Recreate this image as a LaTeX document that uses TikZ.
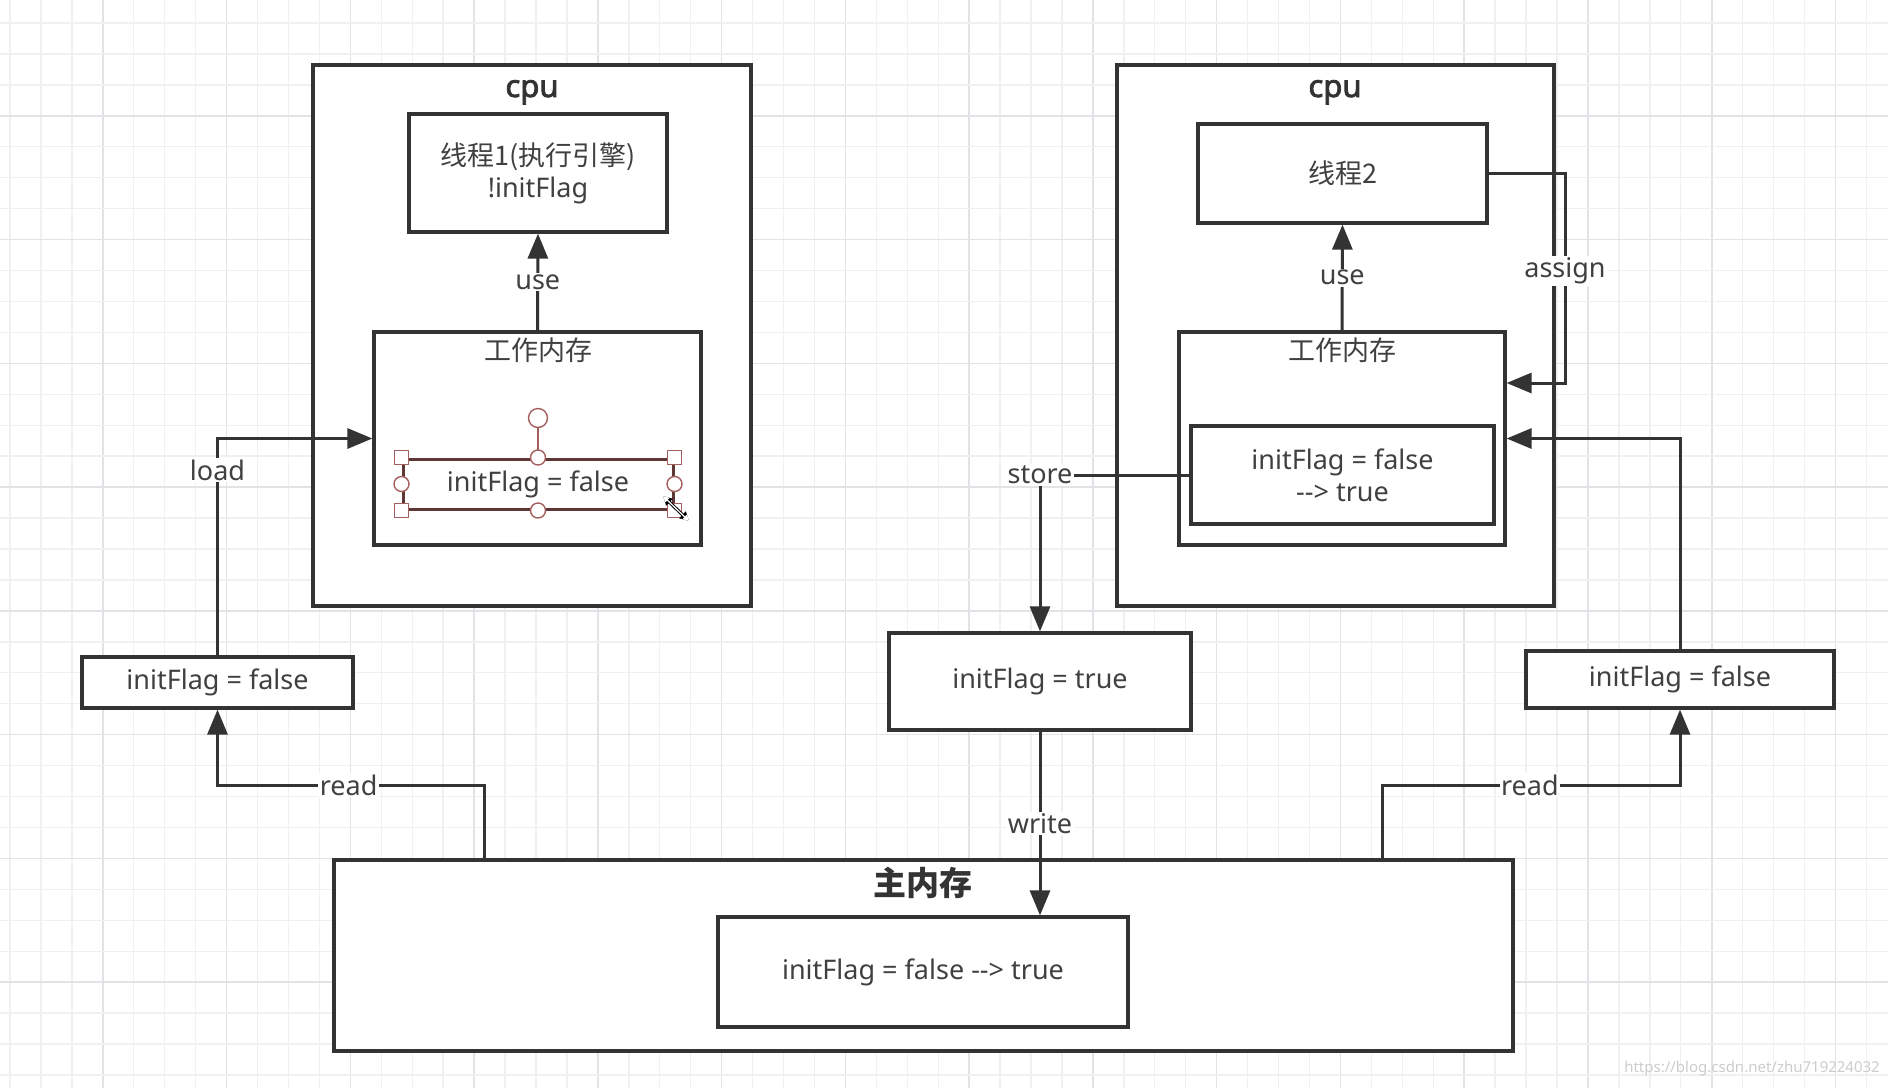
\documentclass[tikz,border=0pt]{standalone}
\usepackage{fontspec}
\setmainfont{Noto Sans}[BoldFont={Noto Sans},BoldFeatures={FakeBold=2.5}]
\newfontfamily\cjk{Noto Sans CJK SC}
\usetikzlibrary{arrows.meta}
\definecolor{lc}{RGB}{51,51,51}
\definecolor{tc}{RGB}{64,64,64}
\definecolor{gmin}{RGB}{240,240,243}
\definecolor{gmaj}{RGB}{226,226,231}
\definecolor{selc}{RGB}{95,55,55}
\definecolor{hdl}{RGB}{165,95,95}
\definecolor{wmk}{RGB}{205,205,205}
\begin{document}
\begin{tikzpicture}[x=1pt,y=-1pt,
  box/.style={draw=lc, line width=3.2pt, fill=white, inner sep=0pt, align=center, text=tc,
    font=\fontsize{27}{32}\selectfont},
  title/.style={inner sep=0pt, text=lc, font=\fontsize{31}{36}\selectfont\bfseries},
  plain/.style={inner sep=0pt, text=tc, font=\fontsize{27}{32}\selectfont},
  lbl/.style={fill=white, inner sep=1.5pt, text=tc, font=\fontsize{27}{32}\selectfont},
  arr/.style={draw=lc, line width=3pt, -{Triangle[length=25pt,width=20pt]}},
  sq/.style={draw=hdl, fill=white, line width=1.4pt, minimum size=14pt, inner sep=0pt, rectangle},
  hc/.style={draw=hdl, fill=white, line width=1.4pt, minimum size=15pt, inner sep=0pt, circle}
]
\useasboundingbox (0,0) rectangle (1888,1088);
\fill[white] (0,0) rectangle (1888,1088);
% grid
\foreach \i in {0,...,60}{
  \pgfmathsetmacro\xx{10+30.94*\i}
  \pgfmathtruncatemacro\m{mod(\i,4)}
  \ifnum\m=3 \draw[gmaj,line width=1.6pt] (\xx,0) -- (\xx,1088);
  \else \draw[gmin,line width=1.4pt] (\xx,0) -- (\xx,1088); \fi
}
\foreach \j in {0,...,34}{
  \pgfmathsetmacro\yy{23+30.94*\j}
  \pgfmathtruncatemacro\m{mod(\j,4)}
  \ifnum\m=3 \draw[gmaj,line width=1.6pt] (0,\yy) -- (1888,\yy);
  \else \draw[gmin,line width=1.4pt] (0,\yy) -- (1888,\yy); \fi
}

% left cpu
\node[box, minimum width=438pt, minimum height=541pt] (cpu1) at (532,335.5) {};
\node[title, anchor=base] (cpu1t) at (532,97) {cpu};
\node[box, minimum width=258pt, minimum height=118pt] (th1) at (538,173) {{\cjk 线程1(执行引擎)}\\!initFlag};
\node[box, minimum width=327pt, minimum height=213pt] (wm1) at (537.5,438.5) {};
\node[plain] (wm1t) at (538,350) {\cjk 工作内存};
\node[box, draw=selc, line width=3pt, minimum width=270pt, minimum height=50pt] (sel) at (538,484) {initFlag = false};

% right cpu
\node[box, minimum width=437pt, minimum height=541pt] (cpu2) at (1335.5,335.5) {};
\node[title, anchor=base] (cpu2t) at (1335,97) {cpu};
\node[box, minimum width=289pt, minimum height=99pt] (th2) at (1342.5,173.5) {\cjk 线程2};
\node[box, minimum width=326pt, minimum height=213pt] (wm2) at (1342,438.5) {};
\node[plain] (wm2t) at (1342,350) {\cjk 工作内存};
\node[box, minimum width=303pt, minimum height=98pt] (ib2) at (1342.5,475) {initFlag = false\\-{}-> true};

% side boxes
\node[box, minimum width=271pt, minimum height=51pt] (lf) at (217.5,682.5) {initFlag = false};
\node[box, minimum width=302pt, minimum height=97pt] (mid) at (1040,681.5) {initFlag = true};
\node[box, minimum width=308pt, minimum height=57pt] (rf) at (1680,679.5) {initFlag = false};

% main memory
\node[box, minimum width=1179pt, minimum height=191pt] (mm) at (923.5,955.5) {};
\node[title, font=\fontsize{33}{38}\selectfont] (mmt) at (923,883) {\cjk\bfseries 主内存};
\node[box, minimum width=410pt, minimum height=110pt] (mmin) at (923,972) {initFlag = false -{}-> true};

% connectors
\draw[arr] (wm1.north) -- node[lbl]{use} (th1.south);
\draw[arr] (wm2.north) -- node[lbl]{use} (th2.south);
\draw[arr] (lf.north) |- node[lbl,pos=0.427]{load} (wm1.west);
\coordinate (rL) at (484,785);
\coordinate (rR) at (1382,785);
\draw[arr] (mm.north -| rL) -- (rL) -| node[lbl,pos=0.254]{read} (lf.south);
\draw[arr] (mm.north -| rR) -- (rR) -| node[lbl,pos=0.248]{read} (rf.south);
\draw[arr] (rf.north) |- (wm2.east);
\coordinate (aC) at (1565,383);
\draw[arr] (th2.east) -| node[lbl,pos=0.733]{assign} (aC) -- (wm2.east |- aC);
\draw[arr] (ib2.west) -| node[lbl,pos=0.5]{store} (mid.north);
\draw[arr] (mid.south) -- node[lbl]{write} (mid.south |- mmin.north);

% selection handles
\coordinate (rot) at (538,418);
\draw[hdl, line width=1.4pt] (sel.north) -- (rot);
\node[hc, minimum size=19pt] (roth) at (rot) {};
\node[sq] (h1) at (sel.north west) {};
\node[sq] (h2) at (sel.north east) {};
\node[sq] (h3) at (sel.south west) {};
\node[sq] (h4) at (sel.south east) {};
\node[hc] (h5) at (sel.north) {};
\node[hc] (h6) at (sel.south) {};
\node[hc] (h7) at (sel.west) {};
\node[hc] (h8) at (sel.east) {};
\coordinate (cur1) at (663,496);
\coordinate (cur2) at (689,521);
\draw[black, line width=3.2pt, {Triangle[length=9pt,width=9pt]}-{Triangle[length=9pt,width=9pt]}] (cur1) -- (cur2);
\draw[white, line width=1.2pt, {Triangle[length=6pt,width=6pt]}-{Triangle[length=6pt,width=6pt]}] (cur1) -- (cur2);

% watermark
\node[text=wmk, inner sep=0pt, anchor=east, font=\fontsize{15}{18}\selectfont] (wmark) at (1880,1069) {https://blog.csdn.net/zhu719224032};
\end{tikzpicture}
\end{document}
